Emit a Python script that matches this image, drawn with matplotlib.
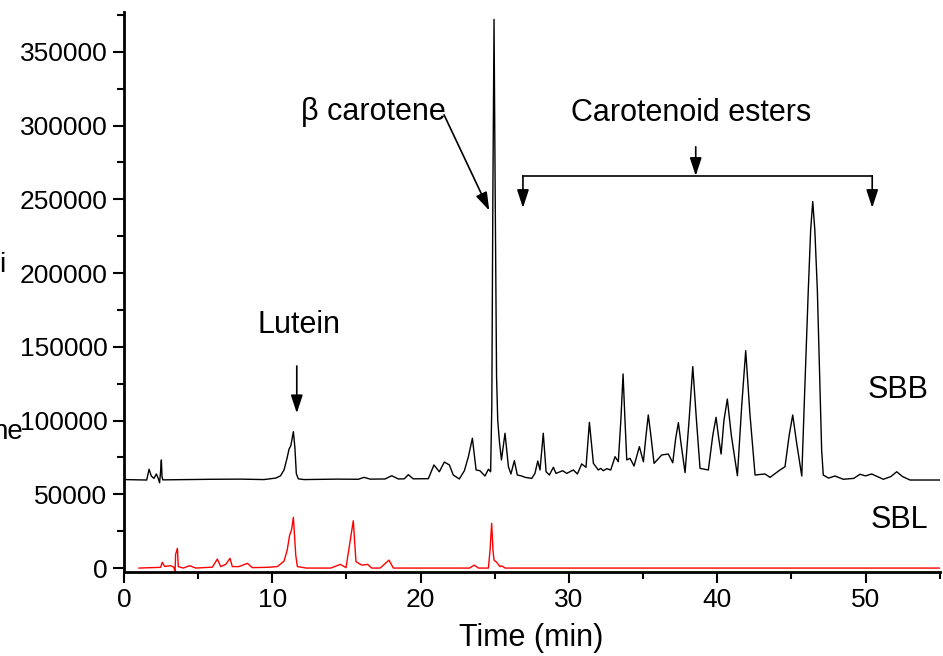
import matplotlib
matplotlib.use('Agg')
import matplotlib.pyplot as plt

plt.rcParams['font.family'] = ['Liberation Sans', 'DejaVu Sans']

# SBB trace (time in min, signal)
sbb_time = [0.0, 1.53, 1.69, 1.84, 2.02, 2.18, 2.31, 2.40, 2.47, 2.52, 2.56, 2.62,
            5.96, 7.87, 9.44, 10.23, 10.55, 10.79, 10.98, 11.13, 11.25, 11.42, 11.52,
            11.62, 11.75, 12.14, 14.38, 15.8, 16.18, 16.6, 17.6, 18.05, 18.5, 18.9,
            19.17, 19.5, 20.52, 20.9, 21.26, 21.6, 21.94, 22.2, 22.61, 22.95, 23.22,
            23.49, 23.74, 24.0, 24.34, 24.57, 24.72, 24.80, 24.87, 24.95, 25.03, 25.12,
            25.2, 25.32, 25.45, 25.69, 25.92, 26.09, 26.32, 26.52, 26.82, 27.04, 27.49,
            27.71, 27.9, 28.05, 28.27, 28.46, 28.68, 28.95, 29.13, 29.58, 29.85, 30.3,
            30.57, 30.86, 31.15, 31.38, 31.65, 31.98, 32.14, 32.32, 32.55, 32.82, 33.11,
            33.33, 33.5, 33.65, 33.78, 33.9, 34.12, 34.39, 34.75, 35.02, 35.2, 35.35,
            35.5, 35.74, 36.26, 36.7, 37.0, 37.2, 37.38, 37.55, 37.83, 38.1, 38.35,
            38.6, 38.84, 39.4, 39.7, 39.92, 40.1, 40.26, 40.45, 40.68, 40.95, 41.36,
            41.65, 41.92, 42.2, 42.55, 43.22, 43.56, 44.23, 44.57, 44.85, 45.09, 45.35,
            45.7, 45.9, 46.14, 46.3, 46.44, 46.58, 46.75, 46.93, 47.04, 47.15, 47.5,
            47.94, 48.5, 49.2, 49.63, 50.0, 50.41, 51.2, 51.7, 52.1, 52.5, 53.0, 55.0]
sbb_signal = [60000, 59700, 67000, 62400, 60800, 63800, 60800, 57800, 66000, 73300, 62000, 59800,
              60200, 60300, 60000, 61000, 62500, 66500, 74000, 80700, 83000, 92500, 82000,
              64000, 60500, 60000, 60300, 60200, 61500, 60300, 60400, 62600, 60400, 60500,
              63300, 60500, 60600, 69900, 65300, 71900, 69900, 63100, 60400, 66000, 75500,
              88000, 66500, 66000, 62400, 67000, 65300, 110000, 250000, 372000, 250000, 130000,
              100000, 85000, 73300, 91400, 68700, 63800, 72800, 63100, 62400, 61500, 60800,
              64200, 72600, 66500, 91400, 65300, 63100, 68300, 64200, 66000, 64200, 66500,
              63800, 70600, 68300, 98800, 71000, 66500, 67600, 66000, 67400, 66500, 75500,
              72100, 100000, 131600, 100000, 73300, 74400, 69200, 82300, 72100, 90000, 103800,
              92000, 71000, 76700, 77300, 71400, 88000, 98600, 85000, 64700, 100000, 136600,
              100000, 67600, 66500, 90000, 102200, 88000, 77300, 100000, 114600, 90000, 62600,
              110000, 147400, 105000, 63100, 63800, 61500, 66500, 68700, 90000, 103800, 85000,
              62400, 120800, 188600, 229300, 248500, 229300, 188600, 120800, 80000, 63100, 61000,
              62400, 60200, 60800, 63600, 62500, 63800, 60200, 62000, 65300, 62000, 59700, 59700]

# SBL trace
sbl_time = [1.01, 2.47, 2.58, 2.74, 3.15, 3.37, 3.44, 3.48, 3.60, 3.66, 3.99, 4.43, 4.83,
            5.96, 6.29, 6.52, 6.86, 7.15, 7.3, 7.75, 8.32, 8.65, 9.66, 10.34, 10.79, 11.0,
            11.17, 11.3, 11.42, 11.58, 11.69, 12.3, 13.94, 14.59, 14.97, 15.24, 15.46, 15.64,
            16.03, 16.43, 16.7, 17.27, 17.87, 18.16, 23.3, 23.62, 23.9, 24.57, 24.68, 24.79,
            24.88, 24.95, 25.13, 25.35, 25.47, 25.7, 55.0]
sbl_signal = [0, 500, 3900, 1100, 1600, 500, -3400, 9300, 13400, 1000, 0, 1600, 0,
              600, 6100, 1000, 2500, 6600, 1000, 1000, 3200, 300, 500, 1000, 4700, 12000,
              22400, 26000, 34400, 8800, 1000, 0, 0, 2500, 300, 17800, 32100, 4300,
              2000, 2500, 0, 0, 5400, 0, 0, 2000, 0, 0, 12000, 30300,
              12000, 5400, 3900, 1000, 1500, 0, 0]

fig = plt.figure(figsize=(9.43, 6.56), dpi=100)
ax = fig.add_axes([0.1315, 0.1273, 0.865, 0.8544])

ax.plot(sbb_time, sbb_signal, color='black', lw=1.0)
ax.plot(sbl_time, sbl_signal, color='red', lw=1.0)

ax.set_xlim(0, 55)
ax.set_ylim(-3000, 377000)
ax.set_xticks([0, 10, 20, 30, 40, 50])
ax.set_xticks([5, 15, 25, 35, 45, 55], minor=True)
ax.set_yticks(range(0, 350001, 50000))
ax.set_yticks(range(25000, 375001, 50000), minor=True)
ax.set_yticklabels([str(v) for v in range(0, 350001, 50000)])
ax.tick_params(axis='both', which='major', direction='out', length=8, width=1.5, labelsize=19)
ax.tick_params(axis='y', which='major', pad=4)
ax.tick_params(axis='both', which='minor', direction='out', length=5, width=1.5)
for side in ['top', 'right']:
    ax.spines[side].set_visible(False)
for side in ['left', 'bottom']:
    ax.spines[side].set_linewidth(2)

fig.text(531 / 943, 1 - 638 / 656, 'Time (min)', fontsize=22, ha='center', va='center')
# clipped fragments of the y label at the left edge
fig.text(-0.001, 1 - 265 / 656, 'i', fontsize=20, ha='left', va='center')
fig.text(-0.008, 1 - 432 / 656, 'ne', fontsize=20, ha='left', va='center')

head = dict(arrowstyle='-|>,head_length=1.1,head_width=0.36', mutation_scale=10,
            color='black', lw=1.2, shrinkA=0, shrinkB=0)

# Lutein
ax.text(11.8, 165000, 'Lutein', fontsize=22, ha='center', va='center')
ax.annotate('', xy=(11.65, 105000), xytext=(11.65, 137000), arrowprops=head)

# beta carotene
ax.text(16.8, 309400, 'β carotene', fontsize=22, ha='center', va='center')
ax.annotate('', xy=(24.63, 242400), xytext=(21.58, 307300), arrowprops=head)

# Carotenoid esters bracket
ax.text(38.23, 308700, 'Carotenoid esters', fontsize=22, ha='center', va='center')
ax.plot([26.9, 50.45], [265900, 265900], color='black', lw=1.2)
ax.annotate('', xy=(38.55, 265900), xytext=(38.55, 285600), arrowprops=head)
ax.annotate('', xy=(26.9, 244200), xytext=(26.9, 265900), arrowprops=head)
ax.annotate('', xy=(50.45, 244200), xytext=(50.45, 265900), arrowprops=head)

ax.text(52.2, 120800, 'SBB', fontsize=22, ha='center', va='center')
ax.text(52.3, 32600, 'SBL', fontsize=22, ha='center', va='center')

fig.savefig('out.png', dpi=100)
